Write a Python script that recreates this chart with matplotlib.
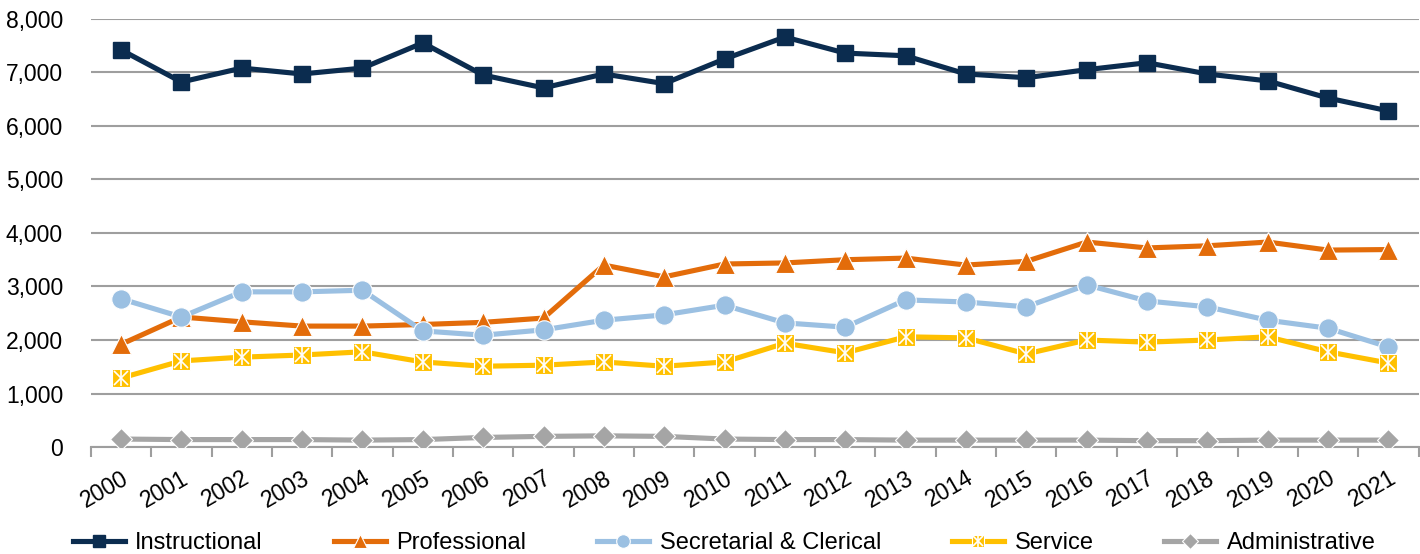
import numpy as np
import matplotlib.pyplot as plt
from matplotlib.legend_handler import HandlerTuple

plt.rcParams['font.family'] = ['Liberation Sans', 'DejaVu Sans']

years = [str(y) for y in range(2000, 2022)]

instructional = [7420, 6820, 7080, 6970, 7080, 7550, 6950, 6710, 6970, 6790, 7250,
                 7660, 7360, 7310, 6970, 6900, 7050, 7180, 6970, 6840, 6520, 6280]
professional = [1920, 2430, 2340, 2260, 2260, 2290, 2330, 2410, 3400, 3180, 3420,
                3440, 3500, 3530, 3400, 3470, 3830, 3720, 3760, 3830, 3680, 3690]
secretarial = [2770, 2430, 2900, 2900, 2930, 2170, 2090, 2190, 2370, 2470, 2650,
               2320, 2240, 2750, 2710, 2620, 3030, 2730, 2620, 2370, 2220, 1870]
service = [1290, 1610, 1680, 1720, 1780, 1590, 1510, 1530, 1590, 1510, 1590,
           1940, 1760, 2060, 2040, 1740, 2000, 1960, 2000, 2060, 1780, 1570]
administrative = [150, 140, 140, 140, 130, 140, 180, 200, 210, 200, 150,
                  140, 140, 130, 130, 130, 130, 120, 120, 130, 130, 130]

fig = plt.figure(figsize=(14.2, 5.54), dpi=100)
ax = fig.add_axes([0.064, 0.193, 0.935, 0.773])

x = np.arange(len(years))
lw = 3.7

h_ins, = ax.plot(x, instructional, color='#0B2C4F', lw=lw, marker='s', ms=12,
                 mec='#0B2C4F', zorder=5)
h_pro, = ax.plot(x, professional, color='#E36C0A', lw=lw, marker='^', ms=14,
                 mec='white', mew=0.8, zorder=4)
h_sec, = ax.plot(x, secretarial, color='#9BC0E2', lw=lw, marker='o', ms=14,
                 mec='white', mew=0.8, zorder=4)
h_ser, = ax.plot(x, service, color='#FFC000', lw=lw, marker='s', ms=13,
                 mec='white', mew=0.8, zorder=4)
h_ser2, = ax.plot(x, service, ls='none', marker='x', ms=10, mec='white', mew=1.2, zorder=4.1)
h_ser3, = ax.plot(x, service, ls='none', marker='|', ms=12, mec='white', mew=1.2, zorder=4.2)
h_adm, = ax.plot(x, administrative, color='#A5A5A5', lw=lw, marker='D', ms=11,
                 mec='white', mew=0.8, zorder=4)

ax.set_xlim(-0.5, len(years) - 0.5)
ax.set_ylim(0, 8000)
ax.set_yticks(np.arange(0, 8001, 1000))
ax.set_yticklabels([f'{v:,}' for v in range(0, 8001, 1000)], fontsize=16.5)
ax.yaxis.grid(True, color='#9E9E9E', lw=1.5)
ax.set_axisbelow(True)
ax.tick_params(axis='y', length=0, pad=20)

ax.set_xticks(x)
ax.set_xticklabels(years, fontsize=16.5, rotation=30, ha='right', va='top',
                   rotation_mode='anchor')
ax.tick_params(axis='x', which='major', length=0, pad=14)
ax.set_xticks(np.arange(-0.5, len(years), 1), minor=True)
ax.tick_params(axis='x', which='minor', length=7, width=1.5, color='#9E9E9E')

for s in ['top', 'right', 'left']:
    ax.spines[s].set_visible(False)
ax.spines['bottom'].set_color('#9E9E9E')
ax.spines['bottom'].set_linewidth(1.5)

ax.legend([h_ins, h_pro, h_sec, (h_ser, h_ser2, h_ser3), h_adm],
          ['Instructional', 'Professional', 'Secretarial & Clerical', 'Service', 'Administrative'],
          handler_map={tuple: HandlerTuple(ndivide=1)},
          loc='center', bbox_to_anchor=(0.477, -0.224), ncol=5, frameon=False,
          fontsize=17, handlelength=2.2, columnspacing=3.0, markerscale=0.7,
          handletextpad=0.45)

fig.savefig('out.png', dpi=100)
